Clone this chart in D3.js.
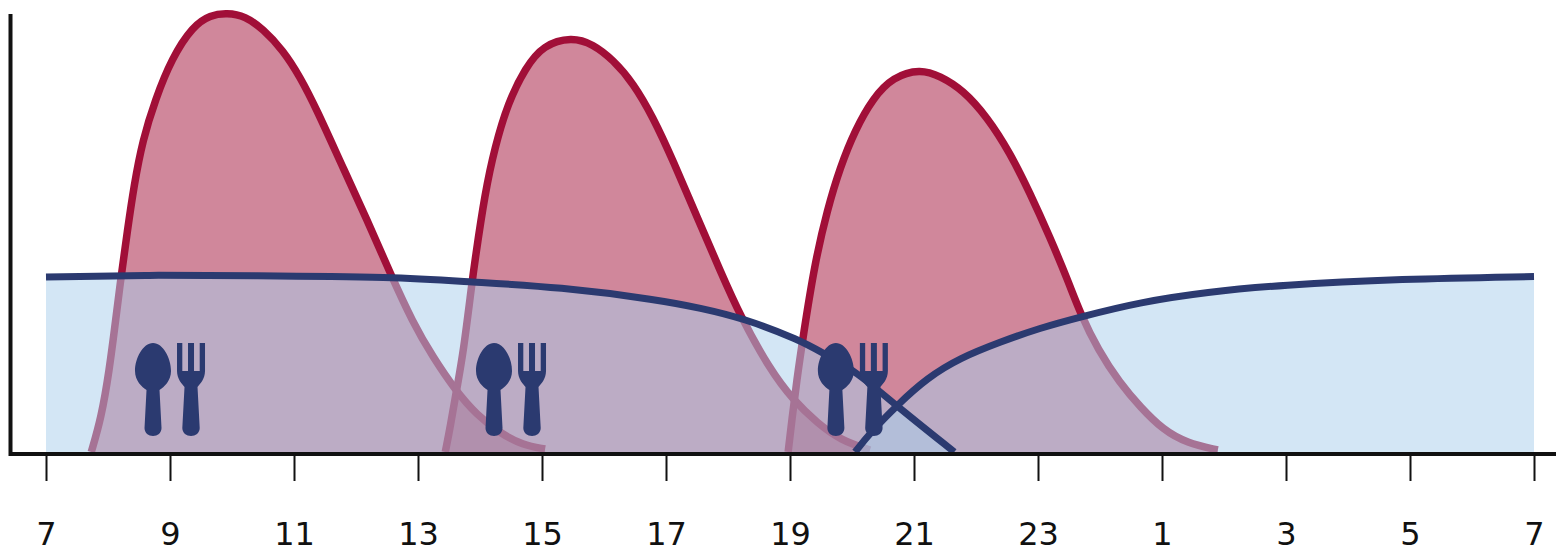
<!DOCTYPE html>
<html>
<head>
<meta charset="utf-8">
<script src="https://cdn.jsdelivr.net/npm/d3@7/dist/d3.min.js"></script>
<style>
html,body{margin:0;padding:0;background:#fff;overflow:hidden}
svg{display:block}
</style>
</head>
<body>
<script>
// Hours since 07:00 and relative level
const tickHours = [0,2,4,6,8,10,12,14,16,18,20,22,24];
const tickLabels = ["7","9","11","13","15","17","19","21","23","1","3","5","7"];

const peak1Hours = [0.73,0.89,1.02,1.13,1.21,1.31,1.42,1.56,1.76,2.03,2.37,2.65,2.92,3.21,3.50,3.82,4.10,4.37,4.77,5.18,5.55,5.92,6.24,6.60,6.95,7.32,7.69,8.05];
const peak1Level = [0,34,81,135,175,220,267,312,352,394,426,437,439,436,423,402,375,342,287,232,179,129,95,62,37,19,7,3];

const peak2Hours = [6.44,6.52,6.63,6.73,6.87,6.92,7.08,7.24,7.45,7.73,8.02,8.48,8.82,9.15,9.47,9.79,10.11,10.52,10.87,11.19,11.68,12.05,12.44,12.81,13.29];
const peak2Level = [0,25,65,99,169,192,259,305,349,384,407,415,408,392,369,335,292,232,182,137,82,52,29,12,2];

const peak3Hours = [11.97,12.03,12.11,12.21,12.40,12.60,12.81,13.05,13.34,13.66,14.10,14.42,14.79,15.18,15.55,15.87,16.19,16.48,16.68,16.97,17.32,17.65,18.02,18.40,18.90];
const peak3Level = [0,32,72,115,189,242,285,322,354,375,383,376,362,335,299,259,215,172,139,102,69,45,22,9,2];

const dayHours = [0,1.68,3.29,5.63,6.84,8.29,9.90,10.55,11.24,12.16,12.53,13.08,13.66,14.65];
const dayLevel = [175,177,176.5,175,170,165,152,144,134,112,99,80,49,0];

const nightHours = [13.05,13.29,13.73,14.21,14.74,15.39,16.03,16.68,17.65,18.73,19.90,21.84,24];
const nightLevel = [0,19,47,74,94,110,124,135,150,160,167,173,175.5];

const mealHours = [1.726,7.226,12.74];

const W = 1556, H = 549;
const RED = "#a10f38", NAVY = "#2b3a70", SKY = "#aacfec", INK = "#111";

const svg = d3.select("body").append("svg").attr("width", W).attr("height", H);
const x = d3.scaleLinear().domain([0,24]).range([46,1534]);
const y = d3.scaleLinear().domain([0,440]).range([452,12]);

const zip = (a,b) => a.map((h,i) => [h,b[i]]);
const line = d3.line().x(d => x(d[0])).y(d => y(d[1])).curve(d3.curveBasis);
const area = d3.area().x(d => x(d[0])).y0(y(0)).y1(d => y(d[1])).curve(d3.curveBasis);

const peaks = [zip(peak1Hours,peak1Level), zip(peak2Hours,peak2Level), zip(peak3Hours,peak3Level)];
const blues = [zip(dayHours,dayLevel), zip(nightHours,nightLevel)];

// red peaks
peaks.forEach(p => {
  svg.append("path").attr("d", area(p)).attr("fill", RED).attr("fill-opacity", 0.5);
});
peaks.forEach(p => {
  svg.append("path").attr("d", line(p)).attr("fill","none").attr("stroke", RED).attr("stroke-width", 7.5);
});

// translucent blue areas
blues.forEach(b => {
  svg.append("path").attr("d", area(b)).attr("fill", SKY).attr("fill-opacity", 0.52);
});
blues.forEach(b => {
  svg.append("path").attr("d", line(b)).attr("fill","none").attr("stroke", NAVY).attr("stroke-width", 7);
});

// meal icons
const spoon = "M0,0C10,0 18,15 18,28C18,38 11,44 6.5,47L8.5,85C8.5,90 4.5,93 0,93C-4.5,93 -8.5,90 -8.5,85L-6.5,47C-11,44 -18,38 -18,28C-18,15 -10,0 0,0Z";
const fork = "M-14,0H-8.7V28H-3V0H3V28H8.7V0H14V28C14,36 9,41 6.5,44L8.7,85C8.7,90 4.5,93 0,93C-4.5,93 -8.7,90 -8.7,85L-6.5,44C-9,41 -14,36 -14,28Z";
const meals = svg.append("g").selectAll("g").data(mealHours).join("g")
  .attr("transform", d => `translate(${x(d)},343)`).attr("fill", NAVY);
meals.append("path").attr("d", spoon);
meals.append("path").attr("d", fork).attr("transform","translate(38,0)");

// axes
svg.append("line").attr("x1",10.5).attr("x2",10.5).attr("y1",14).attr("y2",456).attr("stroke",INK).attr("stroke-width",4);
svg.append("line").attr("x1",9).attr("x2",W).attr("y1",454).attr("y2",454).attr("stroke",INK).attr("stroke-width",4);

const axis = d3.axisBottom(x).tickValues(tickHours).tickFormat((d,i) => tickLabels[i]).tickSize(27).tickPadding(41).tickSizeOuter(0);
const gx = svg.append("g").attr("transform","translate(0,454)").call(axis);
gx.select(".domain").remove();
gx.selectAll(".tick line").attr("stroke",INK).attr("stroke-width",2);
gx.selectAll(".tick text").attr("fill",INK).style("font-family","'DejaVu Sans'").style("font-size","32px");
</script>
</body>
</html>
